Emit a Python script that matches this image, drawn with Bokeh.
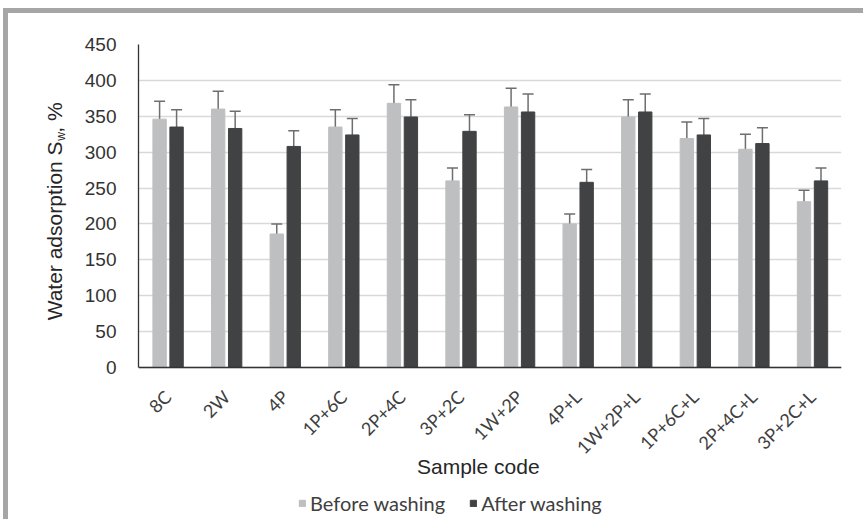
from math import pi
from bokeh.plotting import figure
from bokeh.models import (ColumnDataSource, FactorRange, Whisker, TeeHead, Legend,
                          LegendItem, FixedTicker, Label)
from bokeh.transform import dodge
from bokeh.embed import file_html
from bokeh.resources import INLINE

samples = ["8C", "2W", "4P", "1P+6C", "2P+4C", "3P+2C", "1W+2P", "4P+L",
           "1W+2P+L", "1P+6C+L", "2P+4C+L", "3P+2C+L"]
before = [346, 360, 186, 335, 368, 260, 363, 200, 349, 319, 304, 231]
before_err = [25, 25, 14, 24, 26, 18, 26, 14, 24, 23, 21, 16]
after = [335, 333, 308, 324, 349, 329, 356, 258, 356, 324, 312, 260]
after_err = [24, 24, 22, 23, 24, 23, 25, 18, 25, 23, 22, 18]
y_ticks = [0, 50, 100, 150, 200, 250, 300, 350, 400, 450]
series_names = ["Before washing", "After washing"]
x_title = "Sample code"
y_title_parts = ["Water adsorption S", "w", ", %"]

src = ColumnDataSource(dict(
    sample=samples,
    before=before, after=after,
    b_up=[v + e for v, e in zip(before, before_err)],
    b_lo=[v - e for v, e in zip(before, before_err)],
    a_up=[v + e for v, e in zip(after, after_err)],
    a_lo=[v - e for v, e in zip(after, after_err)],
))

FRAME_GRAY = "#a6a6a6"
Y_MAX = 450
PLOT_PX = 323          # pixel height of the 0..450 data area
EXTRA_PX = 150         # room under the zero line for tick labels, title and legend
y_min = -EXTRA_PX * Y_MAX / PLOT_PX

p = figure(x_range=FactorRange(factors=samples), y_range=(y_min, Y_MAX),
           frame_width=703, frame_height=PLOT_PX + EXTRA_PX,
           min_border_left=130, min_border_right=22, min_border_top=31, min_border_bottom=2,
           output_backend="svg", toolbar_location=None,
           styles={"margin-top": "8px", "margin-left": "3px",
                   "border-top": "5px solid " + FRAME_GRAY,
                   "border-left": "5px solid " + FRAME_GRAY})
p.title.visible = False

c_before = "#bebfc1"
c_after = "#414244"
r1 = p.vbar(x=dodge("sample", -0.14, range=p.x_range), top="before", width=0.228, source=src,
            fill_color=c_before, line_color=c_before)
r2 = p.vbar(x=dodge("sample", 0.15, range=p.x_range), top="after", width=0.228, source=src,
            fill_color=c_after, line_color=c_after)

for off, up, lo in [(-0.14, "b_up", "b_lo"), (0.15, "a_up", "a_lo")]:
    w = Whisker(base=dodge("sample", off, range=p.x_range), upper=up, lower=lo, source=src,
                line_color="#6e6e6e", line_width=1.5,
                upper_head=TeeHead(size=11, line_color="#6e6e6e", line_width=1.5),
                lower_head=TeeHead(size=11, line_color="#6e6e6e", line_width=1.5))
    p.add_layout(w)

p.outline_line_color = None
p.xgrid.grid_line_color = None
p.ygrid.ticker = FixedTicker(ticks=y_ticks)
p.ygrid.grid_line_color = "#d9d9d9"
p.ygrid.grid_line_width = 1.3
p.yaxis.ticker = FixedTicker(ticks=y_ticks)
p.yaxis.bounds = (0, Y_MAX)
p.xaxis.fixed_location = 0
for ax in (p.xaxis[0], p.yaxis[0]):
    ax.major_tick_line_color = None
    ax.minor_tick_line_color = None
    ax.axis_line_color = "#333333"
    ax.axis_line_width = 1.3
p.yaxis.major_label_text_font = "Liberation Sans"
p.yaxis.major_label_text_font_size = "19px"
p.yaxis.major_label_text_color = "#333333"
p.yaxis.major_label_standoff = 16
p.xaxis.major_label_orientation = pi / 4
p.xaxis.major_label_text_font = "Lato"
p.xaxis.major_label_text_font_size = "18px"
p.xaxis.major_label_text_color = "#404040"
p.xaxis.major_label_standoff = 20

legend = Legend(items=[LegendItem(label=series_names[0], renderers=[r1]),
                       LegendItem(label=series_names[1], renderers=[r2])],
                orientation="horizontal", location=(160, 2),
                glyph_width=8, glyph_height=8, label_height=20, label_standoff=4, spacing=24,
                padding=0, margin=0, border_line_color=None, background_fill_alpha=0,
                label_text_font="Lato", label_text_font_size="20px", label_text_color="#404040")
p.add_layout(legend, "center")

TF = "Liberation Sans"
p.add_layout(Label(x=5.80, y=-138, text=x_title, text_font=TF, text_font_size="21px",
                   text_color="#262626", text_align="center", text_baseline="middle"))
p.add_layout(Label(x=-1.434, y=315, text=y_title_parts[0], angle=pi / 2, text_font=TF,
                   text_font_size="21px", text_color="#262626", text_align="right",
                   text_baseline="middle"), "left")
p.add_layout(Label(x=-1.33, y=316, text=y_title_parts[1], angle=pi / 2, text_font=TF,
                   text_font_size="12px", text_color="#262626", text_align="left",
                   text_baseline="middle"), "left")
p.add_layout(Label(x=-1.434, y=327, text=y_title_parts[2], angle=pi / 2, text_font=TF,
                   text_font_size="21px", text_color="#262626", text_align="left",
                   text_baseline="middle"), "left")

open("out.html", "w").write(file_html(p, INLINE))
